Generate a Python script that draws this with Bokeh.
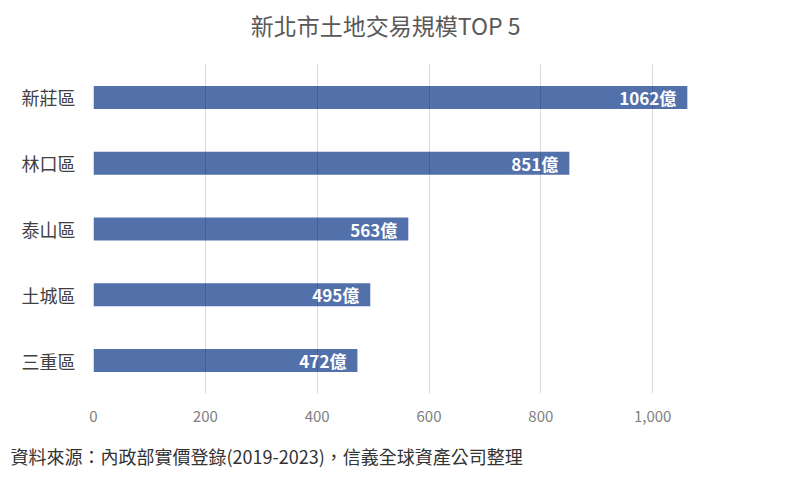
from bokeh.plotting import figure
from bokeh.layouts import column
from bokeh.models import FactorRange, Range1d, ColumnDataSource, Title, NumeralTickFormatter, FixedTicker
from bokeh.core.properties import value
from bokeh.embed import file_html
from bokeh.resources import INLINE

districts = ["新莊區", "林口區", "泰山區", "土城區", "三重區"]
amounts = [1062, 851, 563, 495, 472]
labels = [f"{a}億" for a in amounts]
x_ticks = [0, 200, 400, 600, 800, 1000]

title_text = "新北市土地交易規模TOP 5"
source_text = "資料來源：內政部實價登錄(2019-2023)，信義全球資產公司整理"

FONT = "Noto Sans CJK TC"
W, H = 806, 489
TITLE_H = 48

# ---- title strip (its own small figure, so the title can sit near the top) ----
t = figure(width=W, height=TITLE_H, output_backend="svg", toolbar_location=None,
           x_range=Range1d(0, W), y_range=Range1d(0, TITLE_H),
           x_axis_location=None, y_axis_location=None,
           min_border=0, min_border_left=0, min_border_right=0, min_border_top=0, min_border_bottom=0)
t.grid.visible = False
t.outline_line_color = None
t.text(x=[189], y=[TITLE_H - 24], text=[title_text], text_font=value(FONT),
       text_font_size="23px", text_color="#595959", text_baseline="middle", text_align="left")

# ---- main chart ----
src = ColumnDataSource(dict(d=districts, a=amounts, lab=labels))

p = figure(width=W, height=H - TITLE_H, output_backend="svg", toolbar_location=None,
           y_range=FactorRange(factors=list(reversed(districts)), range_padding=0),
           x_range=Range1d(0, 1200),
           min_border_left=93, min_border_right=42, min_border_top=64 - TITLE_H, min_border_bottom=96)
p.outline_line_color = None

p.hbar(y="d", right="a", height=0.35, source=src, color="#5271AB", line_color=None)
p.text(x="a", y="d", text="lab", source=src, text_align="right", text_baseline="middle",
       x_offset=-11, text_color="white", text_font=value(FONT), text_font_style="bold",
       text_font_size="17px")

p.xaxis.ticker = FixedTicker(ticks=x_ticks)
p.xaxis.formatter = NumeralTickFormatter(format="0,0")
p.xaxis.axis_line_color = None
p.xaxis.major_tick_line_color = None
p.xaxis.major_tick_out = 0
p.xaxis.major_tick_in = 0
p.xaxis.minor_tick_line_color = None
p.xaxis.major_label_text_font = FONT
p.xaxis.major_label_text_font_size = "15px"
p.xaxis.major_label_text_color = "#808080"
p.xaxis.major_label_standoff = 17

p.yaxis.axis_line_color = None
p.yaxis.major_tick_line_color = None
p.yaxis.major_tick_out = 0
p.yaxis.major_tick_in = 0
p.yaxis.major_label_text_font = FONT
p.yaxis.major_label_text_font_size = "18px"
p.yaxis.major_label_text_color = "#404040"
p.yaxis.major_label_standoff = 18

p.ygrid.grid_line_color = None
p.xgrid.grid_line_color = "black"
p.xgrid.grid_line_alpha = 0.15
p.xgrid.level = "overlay"

p.add_layout(Title(text=source_text, align="left", offset=-83, text_font=FONT,
                   text_font_size="18px", text_font_style="normal", text_color="#333333",
                   standoff=32), "below")

layout = column(t, p, spacing=0)
open("out.html", "w").write(file_html(layout, INLINE))
